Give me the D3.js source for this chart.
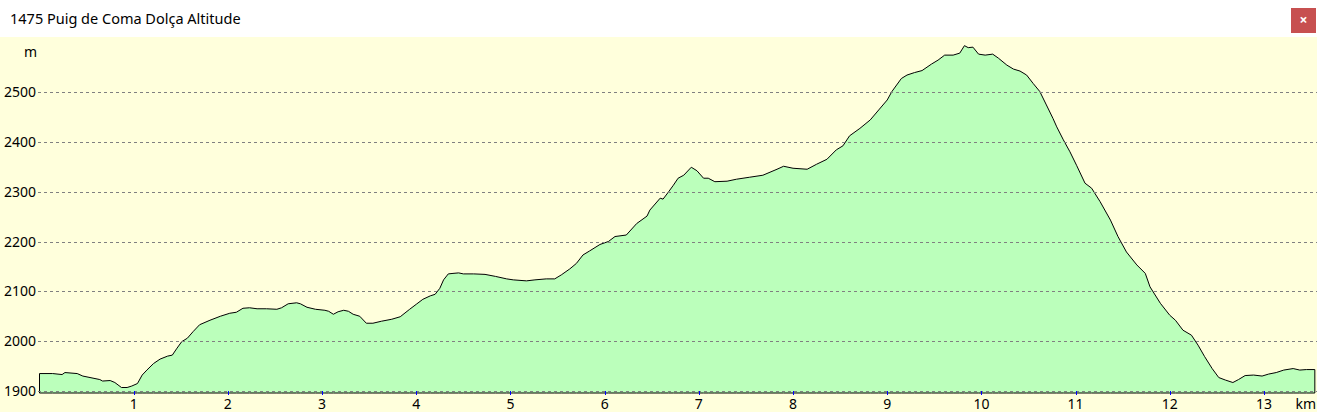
<!DOCTYPE html>
<html>
<head>
<meta charset="utf-8">
<script src="https://cdn.jsdelivr.net/npm/d3@7"></script>
<style>
html,body{margin:0;padding:0;background:#fff;overflow:hidden;}
svg{display:block;}
text{font-family:"Noto Sans","Open Sans",sans-serif;}
</style>
</head>
<body>
<svg id="chart" width="1317" height="412"></svg>
<script>
// ---- data ----
const title = "1475 Puig de Coma Dolça Altitude";
const yTicks = [1900, 2000, 2100, 2200, 2300, 2400, 2500];
const xTicks = [1, 2, 3, 4, 5, 6, 7, 8, 9, 10, 11, 12, 13];
const distanceKm = [
  0.00,0.14,0.24,0.27,0.40,0.46,0.64,0.67,0.75,0.80,0.87,0.93,0.98,1.04,1.09,1.14,1.21,1.28,1.36,1.41,
  1.46,1.51,1.57,1.63,1.70,1.81,1.92,2.02,2.09,2.16,2.23,2.31,2.41,2.52,2.57,2.64,2.73,2.77,2.84,2.93,
  3.03,3.07,3.12,3.17,3.23,3.28,3.33,3.40,3.47,3.54,3.63,3.74,3.83,3.93,4.00,4.07,4.15,4.20,4.25,4.29,
  4.34,4.39,4.45,4.50,4.61,4.73,4.84,4.96,5.03,5.17,5.26,5.38,5.47,5.54,5.63,5.70,5.77,5.84,5.95,6.04,
  6.11,6.23,6.34,6.45,6.48,6.59,6.62,6.68,6.73,6.78,6.84,6.92,6.98,7.05,7.10,7.17,7.30,7.40,7.54,7.68,
  7.83,7.90,8.00,8.15,8.25,8.36,8.46,8.53,8.60,8.71,8.82,8.91,9.00,9.05,9.15,9.21,9.29,9.37,9.47,9.54,
  9.61,9.70,9.77,9.82,9.86,9.91,9.97,10.04,10.12,10.18,10.27,10.34,10.41,10.48,10.55,10.62,10.69,10.76,10.80,10.87,
  10.94,11.01,11.10,11.17,11.26,11.37,11.45,11.54,11.65,11.74,11.79,11.90,12.00,12.06,12.14,12.23,12.30,12.37,12.45,12.52,
  12.59,12.67,12.73,12.80,12.89,12.98,13.05,13.13,13.21,13.31,13.38,13.45,13.54
];
const altitudeM = [
  1935,1935,1933,1937,1935,1930,1923,1920,1921,1917,1907,1907,1910,1915,1932,1942,1955,1964,1970,1972,
  1986,1999,2006,2019,2033,2042,2050,2056,2058,2066,2067,2065,2065,2064,2067,2075,2077,2075,2068,2064,
  2062,2060,2054,2059,2062,2060,2054,2050,2036,2036,2040,2044,2049,2064,2074,2084,2091,2094,2106,2123,
  2135,2136,2137,2135,2135,2134,2130,2125,2123,2121,2123,2125,2125,2133,2145,2156,2173,2181,2194,2200,
  2210,2213,2236,2251,2263,2287,2285,2300,2313,2327,2333,2349,2342,2327,2327,2320,2321,2325,2329,2333,
  2345,2351,2347,2345,2355,2365,2384,2392,2412,2427,2444,2464,2484,2501,2527,2534,2539,2543,2556,2564,
  2574,2574,2578,2593,2589,2590,2576,2574,2576,2568,2554,2546,2542,2534,2517,2501,2474,2447,2430,2404,
  2380,2353,2317,2307,2280,2243,2210,2179,2153,2136,2109,2076,2052,2042,2022,2012,1992,1969,1945,1927,
  1922,1917,1923,1931,1932,1930,1934,1937,1942,1945,1942,1943,1943
];
const profile = distanceKm.map((d, i) => ({ d, a: altitudeM[i] }));

// ---- layout ----
const W = 1317, H = 412;
const headerH = 37;
const plotLeft = 39.5, pxPerKm = 94.19, plotBottom = 393;
const svg = d3.select("#chart");

// header
svg.append("rect").attr("x", 0).attr("y", 0).attr("width", W).attr("height", headerH).attr("fill", "#ffffff");
svg.append("text").attr("x", 10).attr("y", 24).attr("font-size", 14.5).attr("fill", "#000").text(title);
svg.append("rect").attr("x", 1291).attr("y", 8).attr("width", 25).attr("height", 25).attr("fill", "#c75050");
svg.append("text").attr("x", 1303.5).attr("y", 25).attr("text-anchor", "middle").attr("font-size", 14)
  .attr("font-weight", "bold").attr("fill", "#fff").text("×");

// plot background
svg.append("rect").attr("x", 0).attr("y", headerH).attr("width", W).attr("height", H - headerH).attr("fill", "#ffffdc");

const maxKm = d3.max(distanceKm);
const x = d3.scaleLinear().domain([0, maxKm]).range([plotLeft, plotLeft + maxKm * pxPerKm]);
const y = d3.scaleLinear().domain([1900, 2500]).range([391, 92]);

// area
const area = d3.area().x(p => x(p.d)).y0(plotBottom).y1(p => y(p.a)).curve(d3.curveLinear);
svg.append("path").datum(profile).attr("d", area)
  .attr("fill", "#bbffbb").attr("stroke", "#000").attr("stroke-width", 1).attr("stroke-linejoin", "miter");

// grid lines (drawn over the fill)
svg.append("g").selectAll("line").data(yTicks).join("line")
  .attr("x1", 38).attr("x2", W)
  .attr("y1", v => Math.round(y(v)) + 0.5).attr("y2", v => Math.round(y(v)) + 0.5)
  .attr("stroke", "#808080").attr("stroke-width", 1).attr("stroke-dasharray", "3,3");

// y labels
svg.append("g").selectAll("text").data(yTicks).join("text")
  .attr("x", 36).attr("y", v => y(v) + 5).attr("text-anchor", "end")
  .attr("font-size", 14).attr("fill", "#000").text(v => v);
svg.append("text").attr("x", 24).attr("y", 57).attr("font-size", 14).attr("fill", "#000").text("m");

// x ticks
svg.append("g").selectAll("line").data(xTicks).join("line")
  .attr("x1", k => Math.round(x(k)) + 0.5).attr("x2", k => Math.round(x(k)) + 0.5)
  .attr("y1", plotBottom - 2).attr("y2", plotBottom + 2)
  .attr("stroke", "#0000ff").attr("stroke-width", 1);
svg.append("g").selectAll("text").data(xTicks).join("text")
  .attr("x", k => x(k)).attr("y", 409).attr("text-anchor", "middle")
  .attr("font-size", 14).attr("fill", "#000").text(k => k);
svg.append("text").attr("x", 1316).attr("y", 409).attr("text-anchor", "end")
  .attr("font-size", 14).attr("fill", "#000").text("km");
</script>
</body>
</html>
